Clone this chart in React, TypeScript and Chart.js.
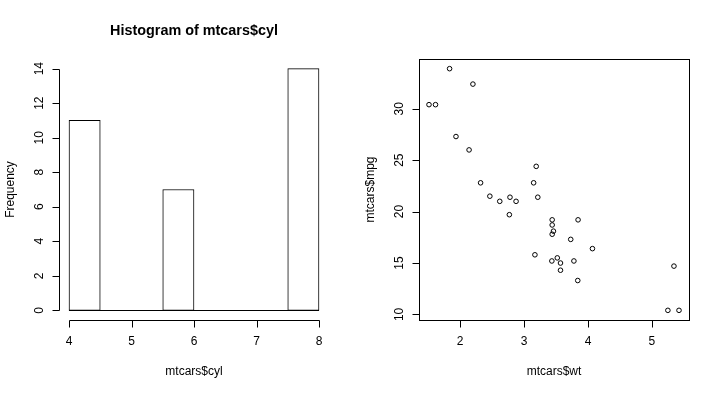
import React, { useEffect, useRef } from "react";
import { Chart, registerables } from "chart.js";

Chart.register(...registerables);

// ---- Data ----
const cylBreaks = [4, 4.5, 5, 5.5, 6, 6.5, 7, 7.5, 8];
const cylCounts = [11, 0, 0, 7, 0, 0, 0, 14];
const histXTicks = [4, 5, 6, 7, 8];
const histYTicks = [0, 2, 4, 6, 8, 10, 12, 14];

const wt = [
  2.62, 2.875, 2.32, 3.215, 3.44, 3.46, 3.57, 3.19, 3.15, 3.44, 3.44, 4.07,
  3.73, 3.78, 5.25, 5.424, 5.345, 2.2, 1.615, 1.835, 2.465, 3.52, 3.435, 3.84,
  3.845, 1.935, 2.14, 1.513, 3.17, 2.77, 3.57, 2.78,
];
const mpg = [
  21.0, 21.0, 22.8, 21.4, 18.7, 18.1, 14.3, 24.4, 22.8, 19.2, 17.8, 16.4, 17.3,
  15.2, 10.4, 10.4, 14.7, 32.4, 30.4, 33.9, 21.5, 15.5, 15.2, 13.3, 19.2, 27.3,
  26.0, 30.4, 15.8, 19.7, 15.0, 21.4,
];
const scatXTicks = [2, 3, 4, 5];
const scatYTicks = [10, 15, 20, 25, 30];

const FONT = "'Liberation Sans', Arial, Helvetica, sans-serif";

function rRange(lo: number, hi: number) {
  const d = (hi - lo) * 0.04;
  return { min: lo - d, max: hi + d };
}

const rAxesPlugin = {
  id: "rAxes",
  afterDraw(chart: any, _args: any, o: any) {
    const ctx = chart.ctx as CanvasRenderingContext2D;
    const xs = chart.scales.x;
    const ys = chart.scales.y;
    const a = chart.chartArea;
    const crisp = (v: number) => Math.round(v) + 0.5;
    ctx.save();
    ctx.strokeStyle = "#000";
    ctx.fillStyle = "#000";
    ctx.lineWidth = 1;

    // histogram baseline (zero-count bins)
    if (o.baseline) {
      const y0 = crisp(ys.getPixelForValue(0));
      ctx.beginPath();
      ctx.moveTo(xs.getPixelForValue(o.baseline[0]), y0);
      ctx.lineTo(xs.getPixelForValue(o.baseline[1]), y0);
      ctx.stroke();
    }

    if (o.box) {
      ctx.strokeRect(crisp(a.left), crisp(a.top), Math.round(a.right - a.left), Math.round(a.bottom - a.top));
    }

    // x axis
    const xt: number[] = o.xTicks;
    const yb = crisp(a.bottom);
    ctx.beginPath();
    ctx.moveTo(crisp(xs.getPixelForValue(xt[0])), yb);
    ctx.lineTo(crisp(xs.getPixelForValue(xt[xt.length - 1])), yb);
    for (const t of xt) {
      const px = crisp(xs.getPixelForValue(t));
      ctx.moveTo(px, yb);
      ctx.lineTo(px, yb + 7);
    }
    ctx.stroke();
    ctx.font = `12px ${FONT}`;
    ctx.textAlign = "center";
    ctx.textBaseline = "middle";
    for (const t of xt) {
      ctx.fillText(String(t), xs.getPixelForValue(t), a.bottom + 22);
    }

    // y axis
    const yt: number[] = o.yTicks;
    const xl = crisp(a.left);
    ctx.beginPath();
    ctx.moveTo(xl, crisp(ys.getPixelForValue(yt[0])));
    ctx.lineTo(xl, crisp(ys.getPixelForValue(yt[yt.length - 1])));
    for (const t of yt) {
      const py = crisp(ys.getPixelForValue(t));
      ctx.moveTo(xl, py);
      ctx.lineTo(xl - 7, py);
    }
    ctx.stroke();
    for (const t of yt) {
      ctx.save();
      ctx.translate(a.left - 19.5, ys.getPixelForValue(t));
      ctx.rotate(-Math.PI / 2);
      ctx.fillText(String(t), 0, 0);
      ctx.restore();
    }

    // titles
    const cx = (a.left + a.right) / 2;
    if (o.title) {
      ctx.font = `bold 14.4px ${FONT}`;
      ctx.fillText(o.title, cx, 31);
    }
    ctx.font = `12px ${FONT}`;
    ctx.fillText(o.xlab, cx, 372);
    ctx.save();
    ctx.translate(10.5, (a.top + a.bottom) / 2);
    ctx.rotate(-Math.PI / 2);
    ctx.fillText(o.ylab, 0, 0);
    ctx.restore();

    ctx.restore();
  },
};

const padding = { left: 59, right: 31, top: 59, bottom: 74 };

export default function App() {
  const histRef = useRef<HTMLCanvasElement>(null);
  const scatRef = useRef<HTMLCanvasElement>(null);

  useEffect(() => {
    const hx = rRange(cylBreaks[0], cylBreaks[cylBreaks.length - 1]);
    const hy = rRange(0, Math.max(...cylCounts));
    const histData = cylCounts.map((c, i) => ({
      x: (cylBreaks[i] + cylBreaks[i + 1]) / 2,
      y: c,
    }));
    const hist = new Chart(histRef.current!, {
      type: "bar",
      data: {
        datasets: [
          {
            data: histData as any,
            backgroundColor: "#ffffff",
            borderColor: "#000000",
            borderWidth: 1,
            borderSkipped: false,
            barPercentage: 1,
            categoryPercentage: 1,
          },
        ],
      },
      options: {
        responsive: false,
        animation: false,
        layout: { padding },
        plugins: {
          legend: { display: false },
          tooltip: { enabled: false },
          rAxes: {
            xTicks: histXTicks,
            yTicks: histYTicks,
            baseline: [cylBreaks[0], cylBreaks[cylBreaks.length - 1]],
            title: "Histogram of mtcars$cyl",
            xlab: "mtcars$cyl",
            ylab: "Frequency",
          },
        } as any,
        scales: {
          x: { type: "linear", min: hx.min, max: hx.max, offset: false, display: false },
          y: { type: "linear", min: hy.min, max: hy.max, display: false },
        },
      },
      plugins: [rAxesPlugin],
    });

    const sx = rRange(Math.min(...wt), Math.max(...wt));
    const sy = rRange(Math.min(...mpg), Math.max(...mpg));
    const scat = new Chart(scatRef.current!, {
      type: "scatter",
      data: {
        datasets: [
          {
            data: wt.map((w, i) => ({ x: w, y: mpg[i] })),
            pointRadius: 2.3,
            pointBorderWidth: 1,
            pointBackgroundColor: "rgba(0,0,0,0)",
            pointBorderColor: "#000000",
            showLine: false,
          },
        ],
      },
      options: {
        responsive: false,
        animation: false,
        layout: { padding },
        plugins: {
          legend: { display: false },
          tooltip: { enabled: false },
          rAxes: {
            xTicks: scatXTicks,
            yTicks: scatYTicks,
            box: true,
            xlab: "mtcars$wt",
            ylab: "mtcars$mpg",
          },
        } as any,
        scales: {
          x: { type: "linear", min: sx.min, max: sx.max, display: false },
          y: { type: "linear", min: sy.min, max: sy.max, display: false },
        },
      },
      plugins: [rAxesPlugin],
    });

    return () => {
      hist.destroy();
      scat.destroy();
    };
  }, []);

  return (
    <div
      style={{
        position: "absolute",
        left: 0,
        top: 0,
        width: 720,
        height: 394,
        background: "#fff",
      }}
    >
      <canvas
        ref={histRef}
        width={360}
        height={394}
        style={{ position: "absolute", left: 0, top: 0, width: 360, height: 394 }}
      />
      <canvas
        ref={scatRef}
        width={360}
        height={394}
        style={{ position: "absolute", left: 360, top: 0, width: 360, height: 394 }}
      />
    </div>
  );
}
